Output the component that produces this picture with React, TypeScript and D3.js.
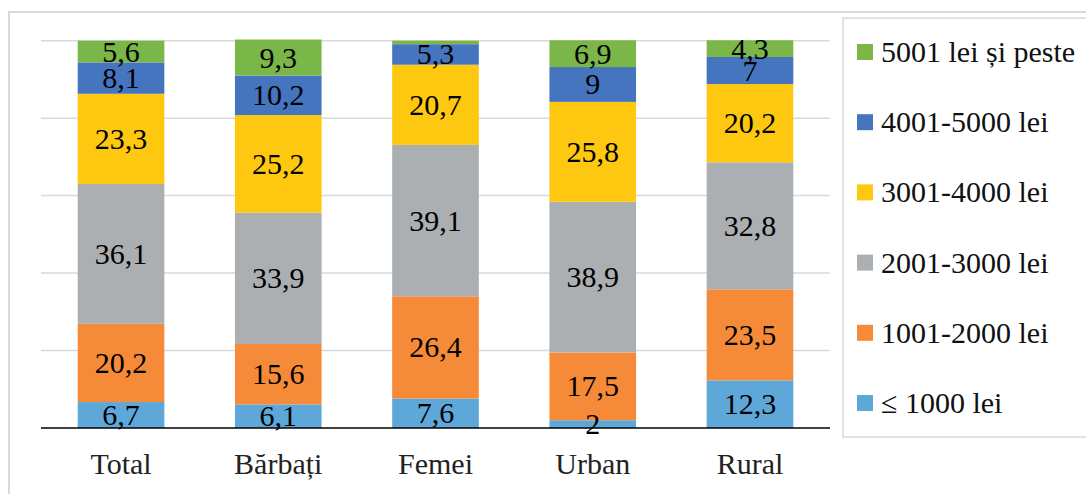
import React from 'react';
import * as d3 from 'd3';

const categories = ['Total', 'Bărbați', 'Femei', 'Urban', 'Rural'];

// stacked from the bottom up
const seriesNames = ['≤ 1000 lei', '1001-2000 lei', '2001-3000 lei', '3001-4000 lei', '4001-5000 lei', '5001 lei și peste'];
const upTo1000 = [6.7, 6.1, 7.6, 2, 12.3];
const from1001 = [20.2, 15.6, 26.4, 17.5, 23.5];
const from2001 = [36.1, 33.9, 39.1, 38.9, 32.8];
const from3001 = [23.3, 25.2, 20.7, 25.8, 20.2];
const from4001 = [8.1, 10.2, 5.3, 9, 7];
const over5000 = [5.6, 9.3, 0.9, 6.9, 4.3];
const colors = ['#5ea7d9', '#f58a38', '#acafb2', '#fdc80f', '#4675c0', '#7ab648'];

const yTicks = [0, 20, 40, 60, 80, 100];

const W = 1086;
const H = 494;

export default function App() {
  const seriesValues = [upTo1000, from1001, from2001, from3001, from4001, over5000];
  const rows = categories.map((c, i) => {
    const r: any = { cat: c };
    seriesNames.forEach((s, k) => (r[s] = seriesValues[k][i]));
    return r;
  });
  const stacked = d3.stack().keys(seriesNames)(rows);

  const x = d3.scaleBand().domain(categories).range([42.4, 828.6]).paddingInner(0.449).paddingOuter(0.2245);
  const y = d3.scaleLinear().domain([0, 100]).range([428, 40.7]);

  const fmt = (v: number) => String(+v.toFixed(1)).replace('.', ',');

  return (
    <svg width={W} height={H} style={{ position: 'absolute', left: 0, top: 0 }}>
      <rect x={9} y={12} width={W} height={H} fill="#fff" stroke="#d9d9d9" strokeWidth={2} />
      {yTicks.slice(1).map((t) => (
        <line key={t} x1={41} x2={830} y1={y(t)} y2={y(t)} stroke="#d9d9d9" strokeWidth={1.5} />
      ))}
      {stacked.map((layer, k) => (
        <g key={layer.key} fill={colors[k]}>
          {layer.map((d: any, i) => (
            <rect key={i} x={x(categories[i])} width={x.bandwidth()} y={y(d[1])} height={y(d[0]) - y(d[1])} />
          ))}
        </g>
      ))}
      <line x1={41} x2={830} y1={y(0)} y2={y(0)} stroke="#000" strokeWidth={1.5} />
      {stacked.map((layer) =>
        layer.map((d: any, i) =>
          d[1] - d[0] < 1 ? null : (
            <text
              key={layer.key + i}
              x={(x(categories[i]) as number) + x.bandwidth() / 2}
              y={(y(d[0]) + y(d[1])) / 2 + 10}
              textAnchor="middle"
              fill="#000"
              fontSize={30}
              style={{ fontFamily: "'Times New Roman'" }}
            >
              {fmt(d[1] - d[0])}
            </text>
          )
        )
      )}
      {categories.map((c) => (
        <text key={c} x={(x(c) as number) + x.bandwidth() / 2} y={474} textAnchor="middle" fill="#222" fontSize={30} style={{ fontFamily: "'Times New Roman'" }}>
          {c}
        </text>
      ))}
      <rect x={843} y={18} width={260} height={419} fill="#fff" stroke="#d9d9d9" strokeWidth={1.5} />
      {seriesNames
        .slice()
        .reverse()
        .map((s, i) => {
          const cy = 52 + i * 70.2;
          return (
            <g key={s}>
              <rect x={857} y={cy - 8} width={16} height={16} fill={colors[seriesNames.length - 1 - i]} />
              <text x={881} y={cy + 10} fill="#111" fontSize={30} style={{ fontFamily: "'Times New Roman'" }}>
                {s}
              </text>
            </g>
          );
        })}
    </svg>
  );
}
